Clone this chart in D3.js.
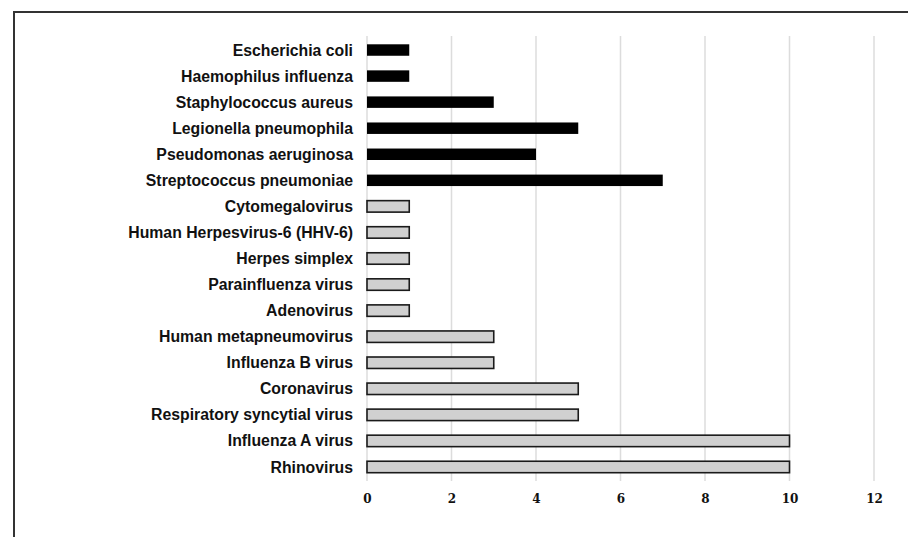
<html lang="en">
<head>
    <meta charset="UTF-8">
    <title>Pathogens</title>
    <script src="https://cdn.jsdelivr.net/npm/d3@7"></script>
    <style>
        body{ margin:0; background:#fff; }
        .label{
            font-family: "Liberation Sans", Arial, sans-serif;
            font-weight: bold;
            font-size: 15.8px;
            fill: #111;
        }
        .tick text{
            font-family: "DejaVu Serif", serif;
            font-weight: bold;
            font-size: 12px;
            fill: #111;
        }
    </style>
</head>
<body>
    <svg id="svg"></svg>
    <script>
        var WIDTH = 908;
        var HEIGHT = 537;

        // Data, top to bottom
        var pathogens = ["Escherichia coli", "Haemophilus influenza", "Staphylococcus aureus",
            "Legionella pneumophila", "Pseudomonas aeruginosa", "Streptococcus pneumoniae",
            "Cytomegalovirus", "Human Herpesvirus-6 (HHV-6)", "Herpes simplex",
            "Parainfluenza virus", "Adenovirus", "Human metapneumovirus", "Influenza B virus",
            "Coronavirus", "Respiratory syncytial virus", "Influenza A virus", "Rhinovirus"];
        var counts = [1, 1, 3, 5, 4, 7, 1, 1, 1, 1, 1, 3, 3, 5, 5, 10, 10];
        var kinds = ["bacteria", "bacteria", "bacteria", "bacteria", "bacteria", "bacteria",
            "virus", "virus", "virus", "virus", "virus", "virus", "virus", "virus", "virus", "virus", "virus"];
        var xTicks = [0, 2, 4, 6, 8, 10, 12];

        var rows = pathogens.map(function(p, i){
            return {name: p, value: counts[i], kind: kinds[i]};
        });

        var svg = d3.select("#svg")
                    .attr("width", WIDTH)
                    .attr("height", HEIGHT);

        // frame
        svg.append("rect")
           .attr("x", 14)
           .attr("y", 12)
           .attr("width", WIDTH)
           .attr("height", HEIGHT)
           .attr("fill", "none")
           .attr("stroke", "#333")
           .attr("stroke-width", 2);

        var xScale = d3.scaleLinear()
                       .domain([0, 12])
                       .range([367, 874]);
        var yScale = d3.scaleBand()
                       .domain(pathogens)
                       .range([37, 480])
                       .paddingInner(0.56)
                       .paddingOuter(0.28);

        // grid
        svg.append("g")
           .selectAll("line")
           .data(xTicks)
           .enter()
           .append("line")
           .attr("x1", function(d){ return xScale(d); })
           .attr("x2", function(d){ return xScale(d); })
           .attr("y1", 36)
           .attr("y2", 481)
           .attr("stroke", "#dcdcdc")
           .attr("stroke-width", 1.5);

        var xAxis = d3.axisBottom(xScale)
                      .tickValues(xTicks)
                      .tickSize(0)
                      .tickPadding(0);

        var gx = svg.append("g")
           .attr("transform", "translate(0,494)")
           .call(xAxis);
        gx.select(".domain").remove();

        // bars
        svg.append("g")
           .selectAll("rect")
           .data(rows)
           .enter()
           .append("rect")
           .attr("x", xScale(0))
           .attr("y", function(d){ return yScale(d.name); })
           .attr("width", function(d){ return xScale(d.value) - xScale(0); })
           .attr("height", yScale.bandwidth())
           .attr("fill", function(d){ return d.kind == "bacteria" ? "#000" : "#d0d0d0"; })
           .attr("stroke", function(d){ return d.kind == "bacteria" ? "none" : "#1a1a1a"; })
           .attr("stroke-width", 1.6);

        // labels
        svg.append("g")
           .selectAll("text")
           .data(rows)
           .enter()
           .append("text")
           .attr("class", "label")
           .attr("x", 353)
           .attr("y", function(d){ return yScale(d.name) + yScale.bandwidth() / 2; })
           .attr("dy", "0.35em")
           .attr("text-anchor", "end")
           .text(function(d){ return d.name; });
    </script>
</body>
</html>
